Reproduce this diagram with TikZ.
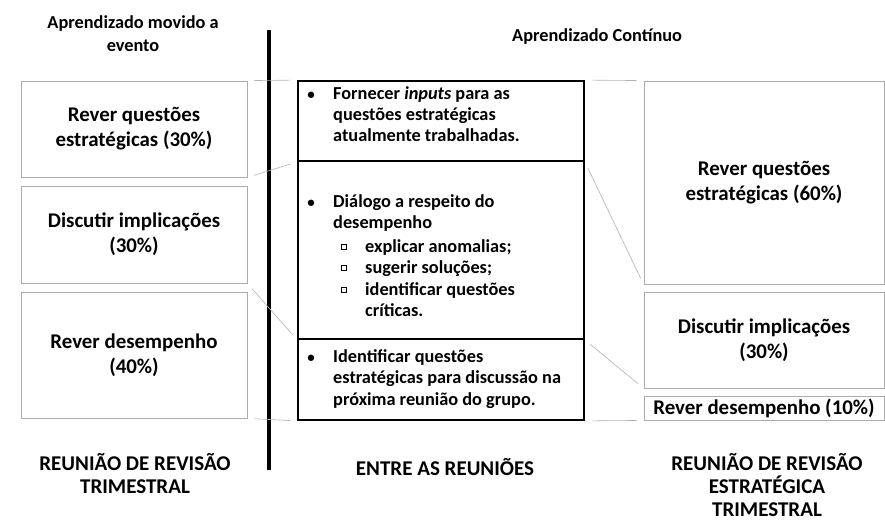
\documentclass[tikz,border=0pt]{standalone}
\usepackage{fontspec}
\setmainfont{Carlito}
\begin{document}
\begin{tikzpicture}[x=1pt,y=-1pt,
  sbox/.style={draw=gray!65, line width=0.8pt, rectangle, inner sep=0pt, align=center,
    font=\fontsize{20.9}{25}\selectfont\bfseries},
  cbox/.style={draw=black, line width=1.8pt, rectangle, inner sep=0pt, minimum width=286},
  hdr/.style={inner sep=0pt, font=\fontsize{18.3}{22}\selectfont\bfseries},
  foot/.style={inner sep=0pt, anchor=base, font=\fontsize{21}{25}\selectfont\bfseries},
  ctxt/.style={inner sep=0pt, anchor=base west, font=\fontsize{18.3}{21}\selectfont\bfseries},
  bul/.style={inner sep=0pt, anchor=base, font=\fontsize{15}{20}\selectfont\bfseries},
  sq/.style={draw=black, line width=0.5pt, inner sep=0pt, minimum size=4.8pt, rectangle},
  callout/.style={draw=gray!60, line width=0.6pt, shorten <=7pt, shorten >=7pt}
]
\useasboundingbox (0,0) rectangle (885,525);

% headers
\node[hdr, anchor=base] (h1) at (133,28) {Aprendizado movido a};
\node[hdr, anchor=base] (h2) at (133,51) {evento};
\node[hdr, anchor=base west] (h3) at (512,41) {Aprendizado Contínuo};

% vertical divider
\coordinate (vt) at (269,30);
\coordinate (vb) at (269,470);
\draw[line width=3.6pt] (vt) -- (vb);

% left boxes
\node[sbox, minimum width=226, minimum height=96] (L1) at (134,129) {Rever questões\\estratégicas (30\%)};
\node[sbox, minimum width=226, minimum height=97] (L2) at (134,234.5) {Discutir implicações\\(30\%)};
\node[sbox, minimum width=226, minimum height=126] (L3) at (134,355) {Rever desempenho\\(40\%)};

% right boxes
\node[sbox, minimum width=240, minimum height=203] (R1) at (764,182.5) {Rever questões\\estratégicas (60\%)};
\node[sbox, minimum width=240, minimum height=96] (R2) at (764,340) {Discutir implicações\\(30\%)};
\node[sbox, minimum width=240, minimum height=24] (R3) at (764,408) {Rever desempenho (10\%)};

% center boxes
\node[cbox, minimum height=80] (c1) at (441,121) {};
\node[cbox, minimum height=178] (c2) at (441,250) {};
\node[cbox, minimum height=81] (c3) at (441,379.5) {};

% callout lines
\draw[callout] (L1.north east) -- (c1.north west);
\draw[callout] (L1.south east) -- (c1.south west);
\draw[callout] (L2.south east) -- (c2.south west);
\draw[callout] (L3.south east) -- (c3.south west);
\draw[callout] (c1.north east) -- (R1.north west);
\draw[callout] (c1.south east) -- (R1.south west);
\draw[callout] (c2.south east) -- (R2.south west);
\draw[callout] (c3.south east) -- (R3.south west);

% center texts
\node[bul] (b1) at (311,99) {•};
\node[ctxt] (t1a) at (333,99) {Fornecer \textit{inputs} para as};
\node[ctxt] (t1b) at (333,120) {questões estratégicas};
\node[ctxt] (t1c) at (333,141) {atualmente trabalhadas.};

\node[bul] (b2) at (311,207) {•};
\node[ctxt] (t2a) at (333,207) {Diálogo a respeito do};
\node[ctxt] (t2b) at (333,228) {desempenho};
\node[sq] (s1) at (344,246.5) {};
\node[ctxt] (t2c) at (365,252) {explicar anomalias;};
\node[sq] (s2) at (344,267.5) {};
\node[ctxt] (t2d) at (365,273) {sugerir soluções;};
\node[sq] (s3) at (344,289.5) {};
\node[ctxt] (t2e) at (365,295) {identificar questões};
\node[ctxt] (t2f) at (365,316) {críticas.};

\node[bul] (b3) at (311,362) {•};
\node[ctxt] (t3a) at (333,362) {Identificar questões};
\node[ctxt] (t3b) at (333,383) {estratégicas para discussão na};
\node[ctxt] (t3c) at (333,405) {próxima reunião do grupo.};

% footers
\node[foot] (f1) at (135,470) {REUNIÃO DE REVISÃO};
\node[foot] (f2) at (135,493) {TRIMESTRAL};
\node[foot] (f3) at (445,475) {ENTRE AS REUNIÕES};
\node[foot] (f4) at (767,470) {REUNIÃO DE REVISÃO};
\node[foot] (f5) at (767,493) {ESTRATÉGICA};
\node[foot] (f6) at (767,516) {TRIMESTRAL};
\end{tikzpicture}
\end{document}
